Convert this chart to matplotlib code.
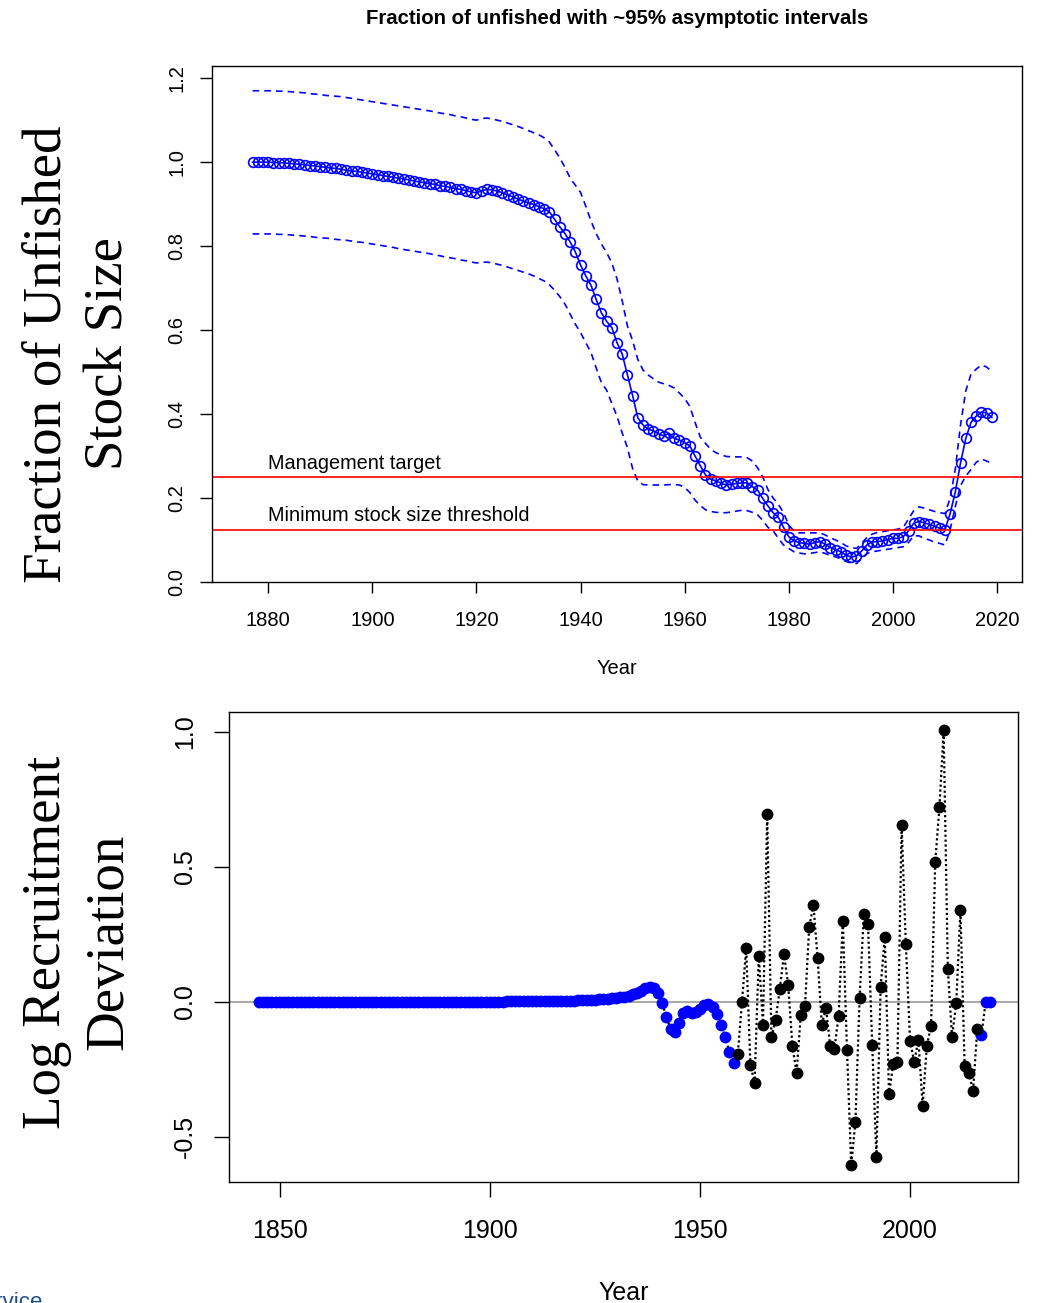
import numpy as np
import matplotlib
matplotlib.use("Agg")
import matplotlib.pyplot as plt

plt.rcParams["font.family"] = ["Liberation Sans", "DejaVu Sans"]

# ---- top panel: fraction of unfished, 1877-2019 ----
years_top = np.arange(1877, 2020)
frac = [
    1.000, 1.000, 1.000, 1.000, 0.999, 0.999, 0.998, 0.997, 0.996, 0.995,
    0.994, 0.992, 0.991, 0.989, 0.988, 0.986, 0.985, 0.983, 0.981, 0.979,
    0.978, 0.976, 0.974, 0.972, 0.970, 0.968, 0.966, 0.964, 0.962, 0.960,
    0.958, 0.955, 0.953, 0.951, 0.949, 0.947, 0.944, 0.942, 0.940, 0.937,
    0.935, 0.932, 0.929, 0.927, 0.932, 0.935, 0.934, 0.931, 0.927, 0.922,
    0.917, 0.912, 0.907, 0.903, 0.899, 0.894, 0.889, 0.882, 0.864, 0.846,
    0.830, 0.810, 0.786, 0.755, 0.729, 0.707, 0.673, 0.641, 0.621, 0.606,
    0.570, 0.543, 0.493, 0.444, 0.391, 0.374, 0.364, 0.360, 0.353, 0.348,
    0.354, 0.342, 0.338, 0.332, 0.324, 0.300, 0.277, 0.255, 0.245, 0.241,
    0.235, 0.231, 0.233, 0.235, 0.236, 0.236, 0.227, 0.219, 0.199, 0.181,
    0.165, 0.154, 0.130, 0.108, 0.098, 0.094, 0.092, 0.090, 0.094, 0.096,
    0.090, 0.082, 0.077, 0.072, 0.064, 0.059, 0.062, 0.074, 0.088, 0.096,
    0.096, 0.098, 0.101, 0.104, 0.104, 0.108, 0.122, 0.140, 0.144, 0.141,
    0.137, 0.133, 0.128, 0.125, 0.163, 0.215, 0.284, 0.342, 0.380, 0.395,
    0.405, 0.403, 0.392,
]
frac_hi = [
    1.170, 1.170, 1.170, 1.170, 1.170, 1.169, 1.169, 1.168, 1.167, 1.166,
    1.165, 1.163, 1.162, 1.161, 1.159, 1.158, 1.157, 1.156, 1.154, 1.152,
    1.150, 1.148, 1.146, 1.144, 1.142, 1.140, 1.138, 1.136, 1.134, 1.132,
    1.130, 1.128, 1.126, 1.124, 1.122, 1.120, 1.117, 1.115, 1.113, 1.110,
    1.108, 1.105, 1.102, 1.100, 1.104, 1.105, 1.103, 1.100, 1.097, 1.093,
    1.089, 1.085, 1.080, 1.075, 1.070, 1.065, 1.058, 1.048, 1.030, 1.010,
    0.988, 0.962, 0.945, 0.928, 0.895, 0.860, 0.830, 0.805, 0.785, 0.760,
    0.722, 0.670, 0.610, 0.575, 0.530, 0.505, 0.493, 0.484, 0.476, 0.472,
    0.468, 0.462, 0.450, 0.437, 0.418, 0.380, 0.345, 0.330, 0.316, 0.308,
    0.303, 0.299, 0.298, 0.298, 0.298, 0.296, 0.288, 0.272, 0.250, 0.220,
    0.200, 0.185, 0.165, 0.135, 0.122, 0.117, 0.117, 0.117, 0.117, 0.117,
    0.112, 0.105, 0.100, 0.094, 0.086, 0.082, 0.080, 0.092, 0.106, 0.114,
    0.118, 0.120, 0.122, 0.124, 0.126, 0.130, 0.150, 0.170, 0.179, 0.176,
    0.172, 0.168, 0.165, 0.163, 0.200, 0.270, 0.375, 0.455, 0.495, 0.507,
    0.517, 0.512, 0.501,
]
frac_lo = [
    0.829, 0.829, 0.829, 0.829, 0.829, 0.828, 0.828, 0.827, 0.826, 0.825,
    0.824, 0.823, 0.821, 0.820, 0.819, 0.818, 0.816, 0.815, 0.814, 0.812,
    0.810, 0.809, 0.807, 0.805, 0.803, 0.801, 0.799, 0.797, 0.794, 0.792,
    0.790, 0.788, 0.786, 0.784, 0.782, 0.779, 0.777, 0.774, 0.772, 0.770,
    0.767, 0.765, 0.762, 0.760, 0.761, 0.762, 0.760, 0.757, 0.754, 0.750,
    0.746, 0.742, 0.738, 0.734, 0.729, 0.723, 0.717, 0.708, 0.695, 0.680,
    0.662, 0.638, 0.614, 0.594, 0.570, 0.547, 0.510, 0.475, 0.457, 0.425,
    0.395, 0.355, 0.320, 0.270, 0.240, 0.232, 0.231, 0.231, 0.231, 0.231,
    0.232, 0.232, 0.231, 0.225, 0.213, 0.195, 0.182, 0.172, 0.168, 0.166,
    0.165, 0.165, 0.167, 0.169, 0.171, 0.170, 0.166, 0.160, 0.147, 0.130,
    0.122, 0.104, 0.088, 0.080, 0.072, 0.069, 0.067, 0.068, 0.070, 0.072,
    0.068, 0.063, 0.060, 0.055, 0.049, 0.045, 0.044, 0.056, 0.068, 0.072,
    0.074, 0.076, 0.078, 0.080, 0.082, 0.084, 0.094, 0.110, 0.110, 0.104,
    0.100, 0.095, 0.092, 0.088, 0.125, 0.180, 0.230, 0.252, 0.268, 0.285,
    0.293, 0.288, 0.283,
]
target = 0.25
threshold = 0.125

# ---- bottom panel: log recruitment deviations ----
early_years = np.arange(1845, 1959)
early_dev = [
    0.000, 0.000, 0.000, 0.000, 0.000, 0.000, 0.000, 0.000, 0.000, 0.000,
    0.000, 0.000, 0.000, 0.000, 0.000, 0.000, 0.000, 0.000, 0.000, 0.000,
    0.000, 0.000, 0.000, 0.000, 0.000, 0.000, 0.000, 0.000, 0.000, 0.000,
    0.000, 0.000, 0.000, 0.000, 0.000, 0.000, 0.000, 0.000, 0.000, 0.000,
    0.000, 0.000, 0.000, 0.000, 0.000, 0.000, 0.000, 0.000, 0.000, 0.000,
    0.000, 0.000, 0.000, 0.000, 0.000, 0.001, 0.001, 0.001, 0.001, 0.002,
    0.002, 0.002, 0.002, 0.002, 0.002, 0.002, 0.002, 0.003, 0.003, 0.003,
    0.003, 0.003, 0.004, 0.004, 0.004, 0.005, 0.006, 0.006, 0.007, 0.008,
    0.009, 0.010, 0.011, 0.012, 0.014, 0.016, 0.018, 0.020, 0.023, 0.028,
    0.034, 0.042, 0.050, 0.056, 0.052, 0.032, -0.005, -0.055, -0.100, -0.110,
    -0.078, -0.042, -0.033, -0.040, -0.036, -0.025, -0.012, -0.008, -0.018, -0.045,
    -0.085, -0.130, -0.185, -0.225,
]
main_years = np.arange(1959, 2017)
main_dev = [
    -0.193, 0.000, 0.200, -0.233, -0.300, 0.170, -0.085, 0.696, -0.130, -0.067,
    0.048, 0.178, 0.063, -0.163, -0.263, -0.048, -0.015, 0.277, 0.359, 0.163,
    -0.085, -0.022, -0.163, -0.174, -0.052, 0.301, -0.178, -0.604, -0.444, 0.015,
    0.326, 0.289, -0.159, -0.574, 0.056, 0.241, -0.341, -0.230, -0.222, 0.656,
    0.215, -0.144, -0.222, -0.141, -0.385, -0.163, -0.089, 0.519, 0.722, 1.007,
    0.122, -0.130, -0.004, 0.341, -0.237, -0.263, -0.330, -0.100,
]
late_years = np.arange(2017, 2020)
late_dev = [-0.122, 0.000, 0.000]

fig = plt.figure(figsize=(10.43, 13.03), dpi=100)

# top panel
ax1 = fig.add_axes([212 / 1043, 1 - 582 / 1303, 810 / 1043, 516 / 1303])
ax1.plot(years_top, frac_hi, color="blue", ls=(0, (4, 3)), lw=1.2)
ax1.plot(years_top, frac_lo, color="blue", ls=(0, (4, 3)), lw=1.2)
ax1.plot(years_top, frac, color="blue", lw=1.2, marker="o", ms=7,
         mfc="none", mec="blue", mew=1.2)
ax1.axhline(target, color="red", lw=1.2)
ax1.axhline(threshold, color="red", lw=1.2)
ax1.text(1880, target + 0.01, "Management target", fontsize=14.3, va="bottom")
ax1.text(1880, threshold + 0.01, "Minimum stock size threshold", fontsize=14.3,
         va="bottom")
ax1.set_xlim(1869.2, 2024.8)
ax1.set_ylim(0, 1.229)
ax1.set_xticks(range(1880, 2021, 20))
ax1.set_yticks([0.0, 0.2, 0.4, 0.6, 0.8, 1.0, 1.2])
ax1.set_yticklabels(["0.0", "0.2", "0.4", "0.6", "0.8", "1.0", "1.2"],
                    rotation=90, va="center")
ax1.tick_params(axis="x", labelsize=14.5, length=8, width=1, pad=13)
ax1.tick_params(axis="y", labelsize=14.5, length=8.5, width=1, pad=10)
for s in ax1.spines.values():
    s.set_linewidth(1)

fig.text(617 / 1043, 1 - 18 / 1303,
         "Fraction of unfished with ~95% asymptotic intervals",
         fontsize=14.7, fontweight="bold", ha="center", va="center")
fig.text(617 / 1043, 1 - 668 / 1303, "Year", fontsize=14.5,
         ha="center", va="center")
fig.text(78 / 1043, 1 - 354 / 1303, "Fraction of Unfished\nStock Size",
         family="Liberation Serif", fontsize=39.5, rotation=90,
         ha="center", va="center", multialignment="center", linespacing=1.3)

# bottom panel
ax2 = fig.add_axes([229 / 1043, 1 - 1182 / 1303, 789 / 1043, 470 / 1303])
ax2.axhline(0, color="#aaaaaa", lw=1.5, zorder=1)
all_years = np.concatenate([early_years, main_years, late_years])
all_dev = np.concatenate([early_dev, main_dev, late_dev])
ax2.plot(all_years, all_dev, color="black", ls=(0, (1, 1.2)), lw=1.6, zorder=2)
ax2.plot(early_years, early_dev, "o", color="blue", ms=7.5, zorder=3)
ax2.plot(late_years, late_dev, "o", color="blue", ms=7.5, zorder=3)
ax2.plot(main_years, main_dev, "o", color="black", ms=7.5, zorder=4)
ax2.set_xlim(1837.9, 2025.7)
ax2.set_ylim(-0.667, 1.074)
ax2.set_xticks([1850, 1900, 1950, 2000])
ax2.set_yticks([-0.5, 0.0, 0.5, 1.0])
ax2.set_yticklabels(["-0.5", "0.0", "0.5", "1.0"], rotation=90, va="center")
ax2.tick_params(axis="x", labelsize=18, length=10.8, width=1, pad=16)
ax2.tick_params(axis="y", labelsize=18, length=10.8, width=1, pad=12.5)
for s in ax2.spines.values():
    s.set_linewidth(1)

fig.text(624 / 1043, 1 - 1293 / 1303, "Year", fontsize=18,
         ha="center", va="center")
fig.text(78 / 1043, 1 - 942 / 1303, "Log Recruitment\nDeviation",
         family="Liberation Serif", fontsize=39.5, rotation=90,
         ha="center", va="center", multialignment="center", linespacing=1.3)

fig.text(-31 / 1043, 1 - 1308 / 1303, "Service", color="#1f4e8c", fontsize=16,
         va="baseline")

fig.savefig("out.png", dpi=100)
